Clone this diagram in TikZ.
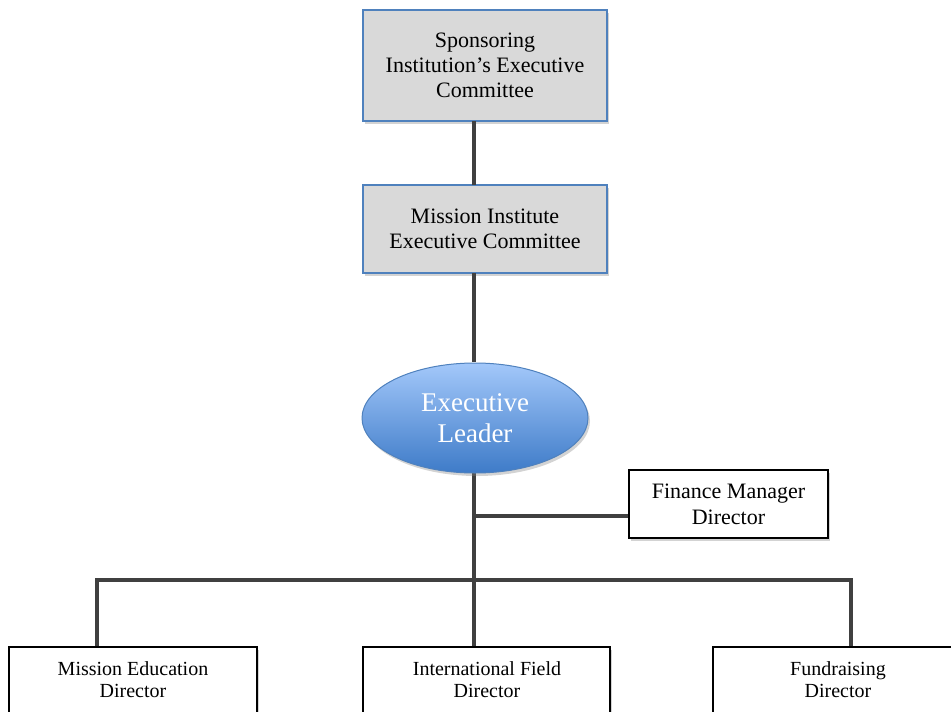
\documentclass[tikz,border=0pt]{standalone}
\usepackage{fontspec}
\setmainfont{Liberation Serif}
\usetikzlibrary{shadows,shapes.geometric}
\definecolor{boxgray}{HTML}{D9D9D9}
\definecolor{boxblue}{HTML}{4F81BD}
\definecolor{linegray}{HTML}{404040}
\definecolor{elltop}{HTML}{A3C8FA}
\definecolor{ellbot}{HTML}{3E7BC8}
\tikzset{
  graybox/.style={draw=boxblue, line width=1.2pt, fill=boxgray, align=center,
    drop shadow={shadow xshift=2pt, shadow yshift=-3pt, opacity=0.35},
    font=\fontsize{22}{25}\selectfont},
  whitebox/.style={draw=black, line width=1.2pt, fill=white, align=center,
    drop shadow={shadow xshift=2pt, shadow yshift=-3pt, opacity=0.35}},
  conn/.style={draw=linegray, line width=4.5pt},
  bottomtext/.style={align=center, font=\fontsize{20}{22}\selectfont},
}
\begin{document}
\begin{tikzpicture}[x=1pt,y=-1pt]
\useasboundingbox (0,0) rectangle (951,712);
\coordinate (j1) at (474,516);
\coordinate (j2) at (474,580);
\coordinate (hl) at (97,580);
\coordinate (hr) at (851,580);
\node[graybox, minimum width=244pt, minimum height=111pt] (spon) at (485,65.5)
  {Sponsoring\\Institution’s Executive\\Committee};
\node[graybox, minimum width=244pt, minimum height=88pt] (mi) at (485,229)
  {Mission Institute\\Executive Committee};
\node[whitebox, minimum width=199pt, minimum height=68pt,
  font=\fontsize{22}{26}\selectfont] (fin) at (728.5,504) {Finance Manager\\Director};
\draw[conn] (474,121) -- (474,185);
\draw[conn] (474,273) -- (474,362);
\draw[conn] (474,472) -- (j2);
\draw[conn] (j1) -- (j1 -| fin.west);
\draw[conn, line cap=rect] (hl) -- (hr);
\draw[conn] (hl) -- (97,647);
\draw[conn] (hr) -- (851,647);
\draw[conn] (j2) -- (474,647);
\node[ellipse, draw=boxblue, line width=1pt, top color=elltop, bottom color=ellbot,
  minimum width=226pt, minimum height=110pt, inner sep=0pt,
  drop shadow={shadow xshift=2pt, shadow yshift=-3pt, opacity=0.35},
  text=white, align=center, font=\fontsize{27}{31}\selectfont] (lead) at (475,418)
  {Executive\\Leader};
\path[whitebox] (9,647) rectangle (257,730);
\path[whitebox] (363,647) rectangle (610,730);
\path[whitebox] (713,647) rectangle (960,730);
\node[bottomtext] (med) at (133,680) {Mission Education\\Director};
\node[bottomtext] (ifd) at (487,680) {International Field\\Director};
\node[bottomtext] (fdd) at (838,680) {Fundraising\\Director};
\end{tikzpicture}
\end{document}
